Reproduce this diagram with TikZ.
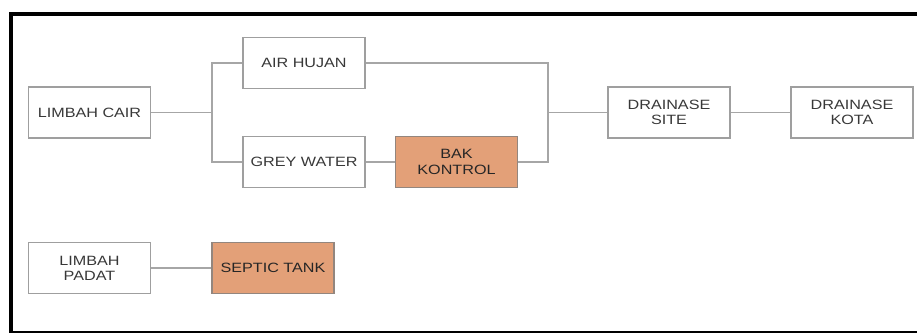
\documentclass[tikz,border=0pt]{standalone}
\usepackage{fontspec}
\setmainfont{Liberation Sans}
\newfontfamily\widefont[FakeStretch=1.2]{Liberation Sans}
\definecolor{salmon}{HTML}{E3A078}
\begin{document}
\begin{tikzpicture}  % ------ Limbah ------------------
      [x=0.03cm,y=-0.03cm,
       box/.style={draw=gray!75, line width=0.9pt, minimum width=3.66cm, minimum height=1.53cm,
                   inner sep=0pt, align=center, text=black!78,
                   font=\widefont\fontsize{11.5}{13}\selectfont},
       tank/.style={box, fill=salmon, draw=gray!80!salmon, text=black!85},
       wire/.style={draw=gray!70, line width=0.9pt}]
    \useasboundingbox (0,0) rectangle (917,336);
    \draw [line width=4pt] (11,14)--(11,332);
    \draw [line width=3pt] (9,14)--(917,14);
    \draw [line width=2.5pt] (9,332)--(917,332);
    \node [box] (cair) at (89.5,112.5) {LIMBAH CAIR};
    \node [box] (hujan) at (304,63) {AIR HUJAN};
    \node [box] (grey) at (304,162) {GREY WATER};
    \node [tank] (bak) at (456.5,162) {BAK\\KONTROL};
    \node [box] (site) at (669,112.5) {DRAINASE\\SITE};
    \node [box] (kota) at (852,112.5) {DRAINASE\\KOTA};
    \node [box] (padat) at (89.5,268) {LIMBAH\\PADAT};
    \node [tank] (septic) at (273,268) {SEPTIC TANK};
    \coordinate (split) at (212,112.5);
    \coordinate (join) at (548,112.5);
    \draw [wire] (cair) -- (split) |- (hujan);
    \draw [wire] (split) |- (grey);
    \draw [wire] (grey) -- (bak);
    \draw [wire] (hujan) -| (join) |- (bak);
    \draw [wire] (join) -- (site);
    \draw [wire] (site) -- (kota);
    \draw [wire] (padat) -- (septic);
\end{tikzpicture}
\end{document}
